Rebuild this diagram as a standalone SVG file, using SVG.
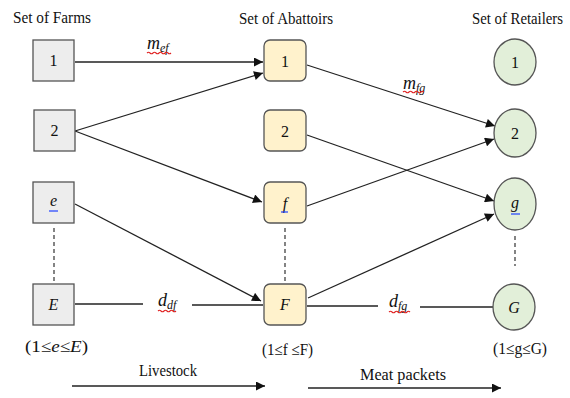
<svg xmlns="http://www.w3.org/2000/svg" width="570" height="398" viewBox="0 0 570 398">
<style>
text{font-family:"Times New Roman","Liberation Serif",serif;fill:#111}
.hdr{font-size:16px}
.lbl{font-size:16px;text-anchor:middle}
.it{font-style:italic}
.farm{fill:#ededed;stroke:#555;stroke-width:1.3}
.abt{fill:#fff2cc;stroke:#555;stroke-width:1.3}
.ret{fill:#e2efd9;stroke:#555;stroke-width:1.3}
.edge{stroke:#222;stroke-width:1.3;fill:none}
.arr{marker-end:url(#ah)}
.dash{stroke:#333;stroke-width:1.2;stroke-dasharray:4,3;fill:none}
.red{stroke:#e02020;stroke-width:1.1;fill:none}
.blue{stroke:#2040ff;stroke-width:1.2;fill:none}
</style>
<defs>
<marker id="ah" viewBox="0 0 10 10" refX="10" refY="5" markerWidth="10" markerHeight="9" markerUnits="userSpaceOnUse" orient="auto">
<path d="M0,0 L10,5 L0,10 Z" fill="#111"/>
</marker>
</defs>
<rect width="570" height="398" fill="#fff"/>

<text class="hdr" x="13" y="23" textLength="78" lengthAdjust="spacingAndGlyphs">Set of Farms</text>
<text class="hdr" x="239" y="24" textLength="94" lengthAdjust="spacingAndGlyphs">Set of Abattoirs</text>
<text class="hdr" x="472" y="24" textLength="91" lengthAdjust="spacingAndGlyphs">Set of Retailers</text>

<g id="connectors">
<line class="edge arr" x1="75" y1="62" x2="263" y2="62"/>
<line class="edge arr" x1="75" y1="131" x2="263" y2="73"/>
<line class="edge arr" x1="75" y1="131" x2="262" y2="202"/>
<line class="edge arr" x1="75" y1="204" x2="261" y2="301"/>
<line class="edge" x1="75" y1="304" x2="143" y2="304"/>
<line class="edge" x1="192" y1="305" x2="263" y2="305"/>
<line class="edge arr" x1="307" y1="65" x2="495" y2="126"/>
<line class="edge arr" x1="307" y1="135" x2="494" y2="201"/>
<line class="edge arr" x1="307" y1="206" x2="494" y2="139"/>
<line class="edge arr" x1="308" y1="298" x2="494" y2="214"/>
<line class="edge" x1="307" y1="306" x2="378" y2="306"/>
<line class="edge" x1="420" y1="307" x2="493" y2="307"/>
<line class="dash" x1="54" y1="228" x2="54" y2="282"/>
<line class="dash" x1="285" y1="228" x2="285" y2="282"/>
<line class="dash" x1="515" y1="236" x2="515" y2="266"/>
<line class="edge arr" x1="72" y1="386" x2="265" y2="386"/>
<line class="edge arr" x1="308" y1="388" x2="501" y2="388"/>
</g>

<g id="label-mef">
<text x="147" y="49" font-size="18" class="it">m<tspan font-size="12" dy="3">ef</tspan></text>
<path class="red" d="M147,53 q1.5,-1.5 3,0 t3,0 t3,0 t3,0 t3,0 t3,0 t3,0 t3,0"/>
</g>
<g id="label-mfg">
<text x="403" y="89" font-size="18" class="it">m<tspan font-size="12" dy="3">fg</tspan></text>
<path class="red" d="M403,92 q1.5,-1.5 3,0 t3,0 t3,0 t3,0 t3,0 t3,0 t3,0"/>
</g>
<g id="label-ddf">
<text x="158" y="306" font-size="18" class="it">d<tspan font-size="12" dy="3">df</tspan></text>
<path class="red" d="M158,311 q1.5,-1.5 3,0 t3,0 t3,0 t3,0 t3,0 t3,0"/>
</g>
<g id="label-dfg">
<text x="389" y="307" font-size="18" class="it">d<tspan font-size="12" dy="3">fg</tspan></text>
<path class="red" d="M389,312 q1.5,-1.5 3,0 t3,0 t3,0 t3,0 t3,0 t3,0 t3,0"/>
</g>

<g id="farm-1"><rect class="farm" x="33" y="40" width="41" height="41"/><text class="lbl" x="53.5" y="66">1</text></g>
<g id="farm-2"><rect class="farm" x="34" y="110" width="41" height="41"/><text class="lbl" x="54.5" y="136">2</text></g>
<g id="farm-e"><rect class="farm" x="33" y="182" width="41" height="41"/><text class="lbl it" x="53.5" y="206">e</text><line class="blue" x1="49" y1="211" x2="58" y2="211"/></g>
<g id="farm-E"><rect class="farm" x="33" y="284" width="41" height="41"/><text class="lbl it" x="53.5" y="310">E</text></g>

<g id="abattoir-1"><rect class="abt" x="264" y="40" width="42" height="41" rx="6"/><text class="lbl" x="285" y="67">1</text></g>
<g id="abattoir-2"><rect class="abt" x="264" y="110" width="42" height="41" rx="6"/><text class="lbl" x="285" y="137">2</text></g>
<g id="abattoir-f"><rect class="abt" x="264" y="182" width="42" height="41" rx="6"/><text class="lbl it" x="285" y="209">f</text><line class="blue" x1="281" y1="212" x2="288" y2="212"/></g>
<g id="abattoir-F"><rect class="abt" x="264" y="284" width="42" height="41" rx="6"/><text class="lbl it" x="285" y="310">F</text></g>

<g id="retailer-1"><ellipse class="ret" cx="515" cy="62" rx="21" ry="23"/><text class="lbl" x="515" y="68">1</text></g>
<g id="retailer-2"><ellipse class="ret" cx="515" cy="133" rx="21" ry="24"/><text class="lbl" x="515" y="139">2</text></g>
<g id="retailer-g"><ellipse class="ret" cx="515" cy="204" rx="21" ry="26"/><text class="lbl it" x="515" y="208">g</text><line class="blue" x1="511" y1="214" x2="520" y2="214"/></g>
<g id="retailer-G"><ellipse class="ret" cx="514" cy="307" rx="21" ry="23"/><text class="lbl it" x="514" y="313">G</text></g>

<text x="25" y="352" font-size="17" textLength="63" lengthAdjust="spacingAndGlyphs">(1≤<tspan font-style="italic">e</tspan>≤<tspan font-style="italic">E</tspan>)</text>
<text x="262" y="355" font-size="16" textLength="51" lengthAdjust="spacingAndGlyphs">(1≤f ≤F)</text>
<text x="493" y="354" font-size="16" textLength="54" lengthAdjust="spacingAndGlyphs">(1≤g≤G)</text>
<text x="139" y="376" font-size="16" textLength="58" lengthAdjust="spacingAndGlyphs">Livestock</text>
<text x="360" y="380" font-size="16" textLength="86" lengthAdjust="spacingAndGlyphs">Meat packets</text>
</svg>
